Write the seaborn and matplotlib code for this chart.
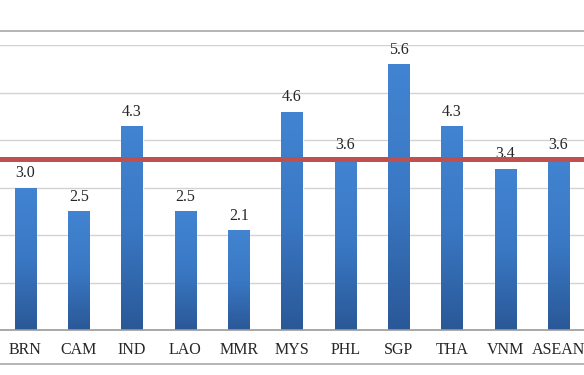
import numpy as np
import pandas as pd
import matplotlib
matplotlib.use("Agg")
import matplotlib.pyplot as plt
import seaborn as sns
from matplotlib.colors import LinearSegmentedColormap
from matplotlib.lines import Line2D

categories = ["BRN", "CAM", "IND", "LAO", "MMR", "MYS", "PHL", "SGP", "THA", "VNM", "ASEAN"]
values = [3.0, 2.5, 4.3, 2.5, 2.1, 4.6, 3.6, 5.6, 4.3, 3.4, 3.6]
labels = ["3.0", "2.5", "4.3", "2.5", "2.1", "4.6", "3.6", "5.6", "4.3", "3.4", "3.6"]
reference_value = 3.6
y_ticks = [0, 1, 2, 3, 4, 5, 6]

sns.set_theme(style="white")
plt.rcParams["font.family"] = ["Liberation Serif", "DejaVu Serif"]

df = pd.DataFrame({"country": categories, "value": values})

fig = plt.figure(figsize=(5.84, 3.75), dpi=100)
ax = fig.add_axes([-0.002, 0.12, 1.004, 0.76])

sns.barplot(data=df, x="country", y="value", color="#3570b8", width=0.4,
            saturation=1, ax=ax, zorder=2)

# gradient fill on bars
cmap = LinearSegmentedColormap.from_list("g", ["#2a5897", "#3a78c4", "#4284d2"])
grad = np.linspace(0, 1, 256).reshape(-1, 1)
for p in list(ax.patches):
    x, y0 = p.get_x(), p.get_y()
    w, h = p.get_width(), p.get_height()
    im = ax.imshow(grad, extent=[x, x + w, y0, y0 + h], origin="lower",
                   aspect="auto", cmap=cmap, zorder=2.1)
    im.set_clip_path(p)

ax.set_xlim(-0.5, len(categories) - 0.5)
ax.set_ylim(0, 6)
ax.set_yticks(y_ticks)
ax.set_yticklabels([])
ax.tick_params(axis="y", length=0)
ax.yaxis.grid(True, color="#d2d2d2", linewidth=1.0, zorder=0)
ax.set_axisbelow(True)
for s in ["left", "right", "top"]:
    ax.spines[s].set_visible(False)
ax.spines["bottom"].set_color("#9a9a9a")
ax.spines["bottom"].set_linewidth(1.2)
ax.set_xlabel("")
ax.set_ylabel("")
ax.tick_params(axis="x", length=0, pad=8.5, labelsize=11.5, colors="#262626")

for i, (v, lab) in enumerate(zip(values, labels)):
    ax.annotate(lab, (i, v), xytext=(0, 4.5), textcoords="offset points",
                ha="center", va="bottom", fontsize=11.5, color="#262626", zorder=3)

ax.axhline(reference_value, color="#c0504d", linewidth=3.6, zorder=4)

# outer frame lines of the chart
fig.add_artist(Line2D([0, 1], [1 - 31 / 375, 1 - 31 / 375], color="#a8a8a8", lw=1.2,
                      transform=fig.transFigure))
fig.add_artist(Line2D([0, 1], [1 - 364 / 375, 1 - 364 / 375], color="#a8a8a8", lw=1.2,
                      transform=fig.transFigure))

fig.savefig("out.png", dpi=100)
